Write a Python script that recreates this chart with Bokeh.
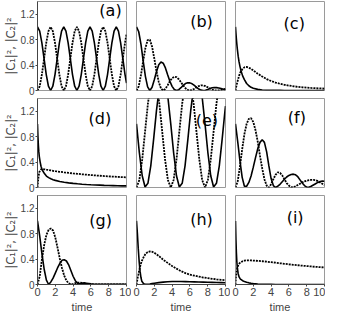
from bokeh.plotting import figure
from bokeh.layouts import gridplot
from bokeh.models import Range1d, FixedTicker, Label
from bokeh.embed import file_html
from bokeh.resources import INLINE

# ---------------- data ----------------
# time samples for panel (a)
t_fast = [0, 0.246, 0.492, 0.738, 0.983, 1.229, 1.475, 1.721, 1.967, 2.213, 2.458, 2.704,
          2.95, 3.196, 3.442, 3.688, 3.933, 4.179, 4.425, 4.671, 4.917, 5.163, 5.408, 5.654,
          5.9, 6.146, 6.392, 6.638, 6.883, 7.129, 7.375, 7.621, 7.867, 8.113, 8.358, 8.604,
          8.85, 9.096, 9.342, 9.588, 9.833, 10.0]
# time samples for panel (e)
t_e = [0, 0.321, 0.642, 0.962, 1.283, 1.604, 1.925, 2.246, 2.567, 2.887, 3.208, 3.529,
       3.85, 4.171, 4.492, 4.812, 5.133, 5.454, 5.775, 6.096, 6.417, 6.737, 7.058, 7.379,
       7.7, 8.021, 8.342, 8.662, 8.983, 9.304, 9.625, 9.946, 10.0]
# quarter-step time samples for (b), (f), (g)
t_q = [0, 0.25, 0.5, 0.75, 1.0, 1.25, 1.5, 1.75, 2.0, 2.25, 2.5, 2.75, 3.0, 3.25, 3.5, 3.75,
       4.0, 4.25, 4.5, 4.75, 5.0, 5.25, 5.5, 5.75, 6.0, 6.25, 6.5, 6.75, 7.0, 7.25, 7.5, 7.75,
       8.0, 8.25, 8.5, 8.75, 9.0, 9.25, 9.5, 9.75, 10.0]
# denser-near-zero time samples for (c), (d), (h), (i)
t_s = [0, 0.05, 0.1, 0.15, 0.2, 0.3, 0.4, 0.5, 0.6, 0.8, 1.0, 1.25, 1.5, 1.75, 2.0, 2.5, 3.0,
       3.5, 4.0, 4.5, 5.0, 5.5, 6.0, 6.5, 7.0, 7.5, 8.0, 8.5, 9.0, 9.5, 10.0]

a_c1 = [1, .933, .75, .5, .25, .067, 0, .067, .25, .5, .75, .933,
        1, .933, .75, .5, .25, .067, 0, .067, .25, .5, .75, .933,
        1, .933, .75, .5, .25, .067, 0, .067, .25, .5, .75, .933,
        1, .933, .75, .5, .25, .115]
a_c2 = [0, .067, .25, .5, .75, .933, 1, .933, .75, .5, .25, .067,
        0, .067, .25, .5, .75, .933, 1, .933, .75, .5, .25, .067,
        0, .067, .25, .5, .75, .933, 1, .933, .75, .5, .25, .067,
        0, .067, .25, .5, .75, .885]

b_c1 = [1.0, .924, .728, .465, .223, .057, 0, .05, .168, .3, .405, .448, .43, .355, .248, .145,
        .065, .015, 0, .013, .044, .08, .109, .121, .12, .105, .08, .05, .023, .006, 0, .005,
        .017, .031, .042, .047, .045, .04, .03, .019, .009]
b_c2 = [0, .066, .243, .465, .668, .793, .8, .69, .503, .3, .135, .032, 0, .025, .083, .145,
        .195, .215, .21, .177, .131, .08, .036, .009, 0, .008, .027, .05, .07, .081, .08, .069,
        .051, .031, .014, .003, 0, .003, .01, .019, .026]

c_c1 = [1.0, .9, .81, .73, .66, .54, .45, .38, .32, .23, .17, .11, .075, .05, .035, .018, .009,
        .005, .003, .002, .002, .001, .001, .001, .001, .001, .001, .001, .001, .001, .001]
c_c2 = [0, .035, .07, .1, .13, .18, .23, .27, .3, .34, .365, .37, .36, .34, .315, .265, .22,
        .18, .15, .125, .105, .09, .077, .067, .058, .051, .045, .04, .036, .033, .03]

d_c1 = [1.0, .8, .66, .56, .49, .4, .33, .29, .26, .215, .18, .155, .137, .123, .112, .095, .083,
        .073, .065, .058, .052, .047, .043, .04, .037, .034, .032, .03, .028, .026, .025]
d_c2 = [0, .08, .15, .2, .24, .27, .285, .29, .29, .285, .28, .275, .268, .262, .256, .247, .238,
        .23, .222, .215, .208, .202, .196, .19, .185, .18, .175, .171, .167, .163, .16]

e_c1 = [1.0, .547, .185, .008, .065, .341, .762, 1.212, 1.575, 1.752, 1.695, 1.419,
        1.0, .547, .185, .008, .065, .341, .762, 1.212, 1.575, 1.752, 1.695, 1.419,
        1.0, .547, .185, .008, .065, .341, .762, 1.212, 1.282]
e_c2 = [0, .118, .44, .88, 1.32, 1.642, 1.76, 1.642, 1.32, .88, .44, .118,
        0, .118, .44, .88, 1.32, 1.642, 1.76, 1.642, 1.32, .88, .44, .118,
        0, .118, .44, .88, 1.32, 1.642, 1.76, 1.642, 1.60]

f_c1 = [1.0, .72, .42, .16, .02, .02, .08, .18, .32, .47, .61, .71, .75, .71, .56, .34, .14, .03,
        0, .02, .05, .09, .13, .165, .19, .205, .21, .2, .17, .12, .07, .03, .005, .005, .02, .04,
        .06, .08, .095, .1, .098]
f_c2 = [0, .1, .33, .6, .84, 1.0, 1.08, 1.09, 1.03, .9, .72, .5, .3, .13, .03, 0, .05, .13, .2,
        .24, .23, .19, .13, .07, .03, .005, .005, .02, .04, .06, .08, .095, .107, .115, .12, .12,
        .115, .1, .08, .06, .04]

g_c1 = [1.0, .76, .48, .24, .07, 0, .04, .1, .18, .26, .33, .38, .39, .37, .31, .22, .13, .06, .02,
        .01, .02, .025, .02, .015, .01, .006, .004, .003, .002, .002, .002, .002, .002, .002,
        .002, .002, .002, .002, .002, .002, .002]
g_c2 = [0, .13, .4, .62, .78, .86, .88, .85, .74, .58, .41, .26, .14, .06, .02, .005, .01, .02,
        .03, .03, .025, .015, .008, .004, .002, .001, .001, .001, .001, .001, .001, .001, .001,
        .001, .001, .001, .001, .001, .001, .001, .001]

h_c1 = [1.0, .9, .8, .68, .56, .36, .21, .11, .05, .012, .003, .003, .008, .014, .02, .03, .038,
        .044, .047, .048, .047, .046, .044, .042, .04, .038, .036, .034, .032, .03, .028]
h_c2 = [0, .04, .08, .12, .15, .22, .28, .33, .37, .43, .48, .51, .52, .515, .5, .45, .39, .34,
        .29, .25, .21, .18, .155, .14, .125, .11, .1, .09, .08, .073, .067]

i_c1 = [1.0, .7, .5, .36, .27, .17, .12, .095, .08, .06, .048, .036, .026, .019, .014, .008, .005,
        .003, .002, .001, .001, .001, .001, .001, .001, .001, .001, .001, .001, .001, .001]
i_c2 = [0, .12, .19, .23, .26, .3, .325, .34, .35, .365, .375, .38, .38, .378, .376, .372, .366,
        .359, .351, .343, .334, .326, .318, .31, .303, .296, .29, .284, .278, .273, .268]

panel_names = ["(a)", "(b)", "(c)", "(d)", "(e)", "(f)", "(g)", "(h)", "(i)"]
panel_t = [t_fast, t_q, t_s, t_s, t_e, t_q, t_q, t_s, t_s]
panel_c1 = [a_c1, b_c1, c_c1, d_c1, e_c1, f_c1, g_c1, h_c1, i_c1]
panel_c2 = [a_c2, b_c2, c_c2, d_c2, e_c2, f_c2, g_c2, h_c2, i_c2]
y_ticks = [0, 0.4, 0.8, 1.2]
y_tick_labels = ["0", "0.4", "0.8", "1.2"]
x_ticks = [0, 2, 4, 6, 8, 10]

# ---------------- layout ----------------
label_pos = [(8.2, 1.26), (7.3, 1.08), (6.6, 1.06), (7.0, 1.08), (7.9, 1.06),
             (6.9, 1.10), (7.1, 1.00), (7.3, 1.03), (6.7, 1.06)]
FW, FH = 89, 89

rows = []
for r in range(3):
    row = []
    for c in range(3):
        i = r * 3 + c
        p = figure(frame_width=FW, frame_height=FH,
                   x_range=Range1d(0, 10), y_range=Range1d(0, 1.4),
                   output_backend="svg", toolbar_location=None,
                   min_border_left=(33 if c == 0 else 5),
                   min_border_right=(5 if c < 2 else 1),
                   min_border_top=(1 if r == 0 else 2),
                   min_border_bottom=(6 if r < 2 else 28))
        p.xgrid.visible = False
        p.ygrid.visible = False
        p.outline_line_color = "#9a9a9a"
        p.background_fill_color = "white"
        p.border_fill_color = "white"

        p.line(panel_t[i], panel_c1[i], line_color="black", line_width=1.6)
        p.line(panel_t[i], panel_c2[i], line_color="black", line_width=1.8, line_dash="2 1")

        lx, ly = label_pos[i]
        p.add_layout(Label(x=lx, y=ly, text=panel_names[i], text_align="center",
                           text_baseline="middle", text_font="DejaVu Sans",
                           text_font_size="16px", text_color="black"))

        if c == 0:
            ax = p.yaxis[0]
            ax.ticker = FixedTicker(ticks=y_ticks)
            ax.major_label_overrides = {t: s for t, s in zip(y_ticks, y_tick_labels)}
            ax.major_label_text_font = "Liberation Sans"
            ax.major_label_text_font_size = "10px"
            ax.major_label_standoff = 1
            ax.major_tick_in = 0
            ax.major_tick_out = 2
            ax.minor_tick_out = 0
            ax.minor_tick_in = 0
            ax.axis_line_color = "#444444"
            ax.major_tick_line_color = "#444444"
            ax.axis_label = "|C\u2081|\u00b2, |C\u2082|\u00b2"
            ax.axis_label_text_font = "DejaVu Sans"
            ax.axis_label_text_font_size = "11.5px"
            ax.axis_label_text_font_style = "normal"
            ax.axis_label_standoff = 0
        else:
            p.yaxis.visible = False

        if r == 2:
            ax = p.xaxis[0]
            ax.ticker = FixedTicker(ticks=x_ticks)
            ax.major_label_text_font = "Liberation Sans"
            ax.major_label_text_font_size = "11px"
            ax.major_label_standoff = 1
            ax.major_tick_in = 0
            ax.major_tick_out = 2
            ax.minor_tick_out = 0
            ax.minor_tick_in = 0
            ax.axis_line_color = "#444444"
            ax.major_tick_line_color = "#444444"
            ax.axis_label = "time"
            ax.axis_label_text_font = "Liberation Sans"
            ax.axis_label_text_font_size = "11px"
            ax.axis_label_text_font_style = "normal"
            ax.axis_label_standoff = 2
        else:
            p.xaxis.visible = False
        row.append(p)
    rows.append(row)

grid = gridplot(rows, toolbar_location=None)
open("out.html", "w").write(file_html(grid, INLINE))
